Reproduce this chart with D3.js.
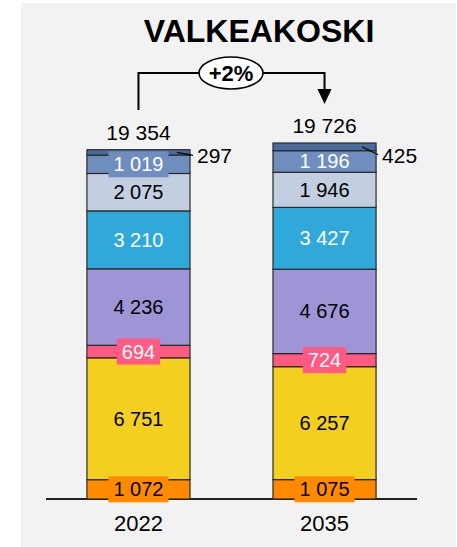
<!DOCTYPE html>
<html>
<head>
<meta charset="utf-8">
<script src="https://cdn.jsdelivr.net/npm/d3@7"></script>
<style>
  body { margin: 0; background: #fff; }
  svg text { font-family: "Liberation Sans", Arial, sans-serif; }
</style>
</head>
<body>
<div id="container"></div>
<script>
// chart data
var title = "VALKEAKOSKI";
var years = ["2022", "2035"];
var categories = ["c1", "c2", "c3", "c4", "c5", "c6", "c7", "c8"]; // bottom to top
var values2022 = [1072, 6751, 694, 4236, 3210, 2075, 1019, 297];
var values2035 = [1075, 6257, 724, 4676, 3427, 1946, 1196, 425];
var totals = [19354, 19726];

var colors = ["#ff8a00", "#f3cf1f", "#ff5a82", "#9e95d6", "#31a8da", "#c3cee0", "#6f8ebe", "#4b6a9c"];
var textColors = ["#000", "#000", "#fff", "#000", "#fff", "#000", "#fff", "#000"];

var w = 457, h = 547;

var svg = d3.select("div#container")
  .append("svg")
  .attr("width", w)
  .attr("height", h);

// grey panel
svg.append("rect")
  .attr("x", 21).attr("y", 3)
  .attr("width", 435).attr("height", 544)
  .attr("fill", "#f2f2f2");

var fmt = d3.formatLocale({ decimal: ",", thousands: "\u00a0", grouping: [3], currency: ["", ""] }).format(",d");

var x = d3.scaleBand()
  .domain(years)
  .range([46, 417])
  .paddingInner(0.446)
  .paddingOuter(0.22);

var y = d3.scaleLinear()
  .domain([0, d3.max(totals)])
  .range([499, 143]);

// build stacked data
var rows = years.map(function(yr, i) {
  var vals = i === 0 ? values2022 : values2035;
  var o = { year: yr };
  categories.forEach(function(c, j) { o[c] = vals[j]; });
  return o;
});
var series = d3.stack().keys(categories)(rows);

// title
svg.append("text")
  .attr("x", 259).attr("y", 42)
  .attr("text-anchor", "middle")
  .attr("font-size", 32)
  .attr("font-weight", "bold")
  .text(title);

// axis line
svg.append("line")
  .attr("x1", 46).attr("x2", 417)
  .attr("y1", y(0)).attr("y2", y(0))
  .attr("stroke", "#222").attr("stroke-width", 2);

// bars
var groups = svg.append("g").selectAll("g")
  .data(series)
  .join("g")
  .attr("fill", function(d, i) { return colors[i]; });

groups.selectAll("rect")
  .data(function(d) { return d; })
  .join("rect")
  .attr("x", function(d) { return x(d.data.year); })
  .attr("y", function(d) { return y(d[1]); })
  .attr("width", x.bandwidth())
  .attr("height", function(d) { return y(d[0]) - y(d[1]); })
  .attr("stroke", "#2a2a2a")
  .attr("stroke-width", 1.2);

// segment labels
var labelG = svg.append("g");
series.forEach(function(s, i) {
  if (i === categories.length - 1) return; // top thin segment labelled outside
  s.forEach(function(d) {
    var cx = x(d.data.year) + x.bandwidth() / 2;
    var cy = (y(d[0]) + y(d[1])) / 2;
    var hgt = y(d[0]) - y(d[1]);
    var t = labelG.append("text")
      .attr("x", cx).attr("y", cy)
      .attr("dy", "0.35em")
      .attr("text-anchor", "middle")
      .attr("font-size", 20)
      .attr("fill", textColors[i])
      .text(fmt(d[1] - d[0]));
    if (hgt < 20) {
      var bb = t.node().getBBox();
      labelG.insert("rect", function() { return t.node(); })
        .attr("x", bb.x - 5).attr("y", cy - 13)
        .attr("width", bb.width + 10).attr("height", 26)
        .attr("fill", colors[i]);
    }
  });
});

// top segment labels with leader lines
var topS = series[categories.length - 1];
topS.forEach(function(d, i) {
  var right = x(d.data.year) + x.bandwidth();
  var cy = (y(d[0]) + y(d[1])) / 2;
  var lx1 = i === 0 ? right - 13 : right - 14;
  var ly2 = i === 0 ? cy + 3 : cy + 8;
  svg.append("line")
    .attr("x1", lx1).attr("y1", cy)
    .attr("x2", right + (i === 0 ? 3 : 2)).attr("y2", ly2)
    .attr("stroke", "#000").attr("stroke-width", 1.2);
  svg.append("text")
    .attr("x", right + (i === 0 ? 7 : 6))
    .attr("y", 155.5)
    .attr("dy", "0.35em")
    .attr("font-size", 21)
    .text(fmt(d[1] - d[0]));
});

// totals
svg.append("g").selectAll("text")
  .data(totals)
  .join("text")
  .attr("x", function(d, i) { return x(years[i]) + x.bandwidth() / 2; })
  .attr("y", function(d) { return y(d) - 10; })
  .attr("text-anchor", "middle")
  .attr("font-size", 21)
  .text(function(d) { return fmt(d); });

// year labels
svg.append("g").selectAll("text")
  .data(years)
  .join("text")
  .attr("x", function(d) { return x(d) + x.bandwidth() / 2; })
  .attr("y", 531)
  .attr("text-anchor", "middle")
  .attr("font-size", 22)
  .text(function(d) { return d; });

// change arrow
var x0 = x(years[0]) + x.bandwidth() / 2,
    x1 = x(years[1]) + x.bandwidth() / 2;
var arrowY = 73;
svg.append("path")
  .attr("d", "M" + x0 + ",110 V" + arrowY + " H" + x1 + " V90")
  .attr("fill", "none")
  .attr("stroke", "#000")
  .attr("stroke-width", 2);
svg.append("path")
  .attr("d", "M" + (x1 - 7) + ",89 L" + (x1 + 7) + ",89 L" + x1 + ",104 Z")
  .attr("fill", "#000");

var pct = Math.round((totals[1] / totals[0] - 1) * 100);
var mx = 231;
svg.append("ellipse")
  .attr("cx", mx).attr("cy", arrowY)
  .attr("rx", 32).attr("ry", 16)
  .attr("fill", "#fff")
  .attr("stroke", "#000")
  .attr("stroke-width", 1.6);
svg.append("text")
  .attr("x", mx).attr("y", arrowY)
  .attr("dy", "0.36em")
  .attr("text-anchor", "middle")
  .attr("font-size", 22)
  .attr("font-weight", "bold")
  .text((pct > 0 ? "+" : "") + pct + "%");
</script>
</body>
</html>
